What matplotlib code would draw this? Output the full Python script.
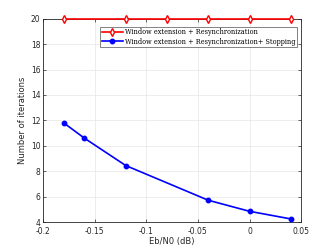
import matplotlib.pyplot as plt

# data
ebn0_red = [-0.18, -0.12, -0.08, -0.04, 0.0, 0.04]
iters_red = [20, 20, 20, 20, 20, 20]
ebn0_blue = [-0.18, -0.16, -0.12, -0.04, 0.0, 0.04]
iters_blue = [11.8, 10.6, 8.45, 5.72, 4.85, 4.25]
xticks = [-0.2, -0.15, -0.1, -0.05, 0, 0.05]
xticklabels = ['-0.2', '-0.15', '-0.1', '-0.05', '0', '0.05']
yticks = [4, 6, 8, 10, 12, 14, 16, 18, 20]

fig = plt.figure(figsize=(3.32, 2.49), dpi=100)
ax = fig.add_axes([0.130, 0.108, 0.777, 0.817])

ax.plot(ebn0_red, iters_red, color='red', lw=1.2, marker='d', ms=4,
        mfc='white', mec='red', mew=1.0, clip_on=False, zorder=5,
        label='Window extension + Resynchronization')
ax.plot(ebn0_blue, iters_blue, color='blue', lw=1.2, marker='o', ms=3.2,
        mfc='blue', mec='blue', clip_on=False, zorder=5,
        label='Window extension + Resynchronization+ Stopping')

ax.set_xlim(-0.2, 0.05)
ax.set_ylim(4, 20)
ax.set_xticks(xticks)
ax.set_xticklabels(xticklabels)
ax.set_yticks(yticks)
ax.tick_params(direction='in', top=True, right=True, labelsize=5.5,
               length=2.5, width=0.5, colors='#262626', pad=2)
ax.tick_params(axis='x', pad=3.5)
for s in ax.spines.values():
    s.set_linewidth(0.6)
    s.set_color('#262626')
ax.grid(True, color='#e6e6e6', lw=0.5)
ax.set_axisbelow(True)
ax.set_xlabel('Eb/N0 (dB)', fontsize=6, color='#262626', labelpad=1)
ax.set_ylabel('Number of iterations', fontsize=6, color='#262626', labelpad=3)

leg = ax.legend(loc='upper right', bbox_to_anchor=(0.985, 0.96),
                prop={'family': 'DejaVu Serif', 'size': 4.7},
                frameon=True, fancybox=False, edgecolor='#262626',
                borderpad=0.25, handlelength=3.2, handletextpad=0.4,
                labelspacing=0.2, borderaxespad=0)
leg.get_frame().set_linewidth(0.5)

fig.savefig('out.png', dpi=100)
